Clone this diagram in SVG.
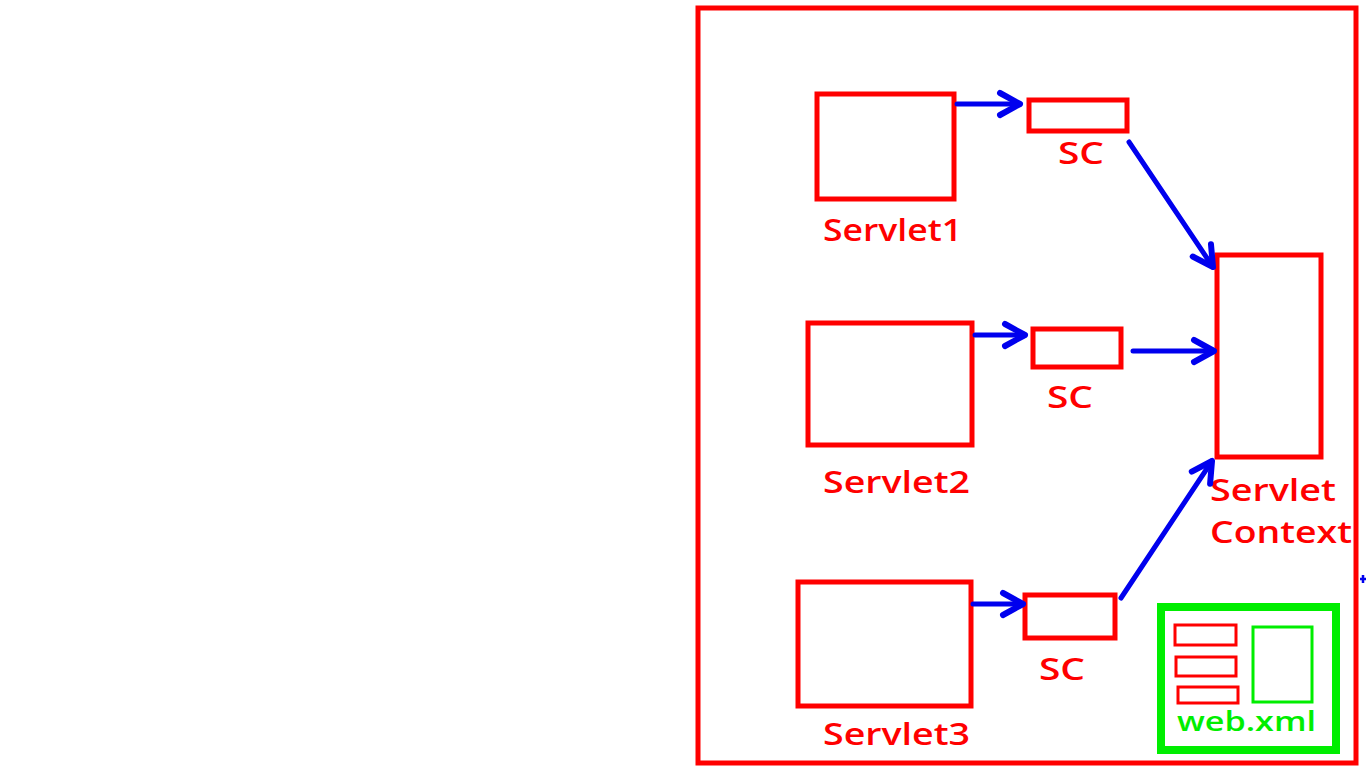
<svg xmlns="http://www.w3.org/2000/svg" width="1366" height="768" viewBox="0 0 1366 768">
<style>
.box{fill:none;stroke:#ff0000;stroke-width:5}
.lbl{fill:#ff0000;font-family:"Open Sans","Liberation Sans",sans-serif;font-weight:600;font-size:30px}
.conn{stroke:#0000ee;stroke-width:5;fill:none;stroke-linecap:round}
</style>
<defs>
<marker id="ah" markerUnits="userSpaceOnUse" markerWidth="40" markerHeight="40" viewBox="-30 -20 40 40" refX="0" refY="0" orient="auto">
<path d="M-20,-11 L0,0 L-20,11" fill="none" stroke="#0000ee" stroke-width="6" stroke-linecap="round" stroke-linejoin="round"/>
</marker>
</defs>
<rect width="1366" height="768" fill="#fff"/>
<g id="container"><rect x="698" y="8" width="658" height="755" class="box"/></g>
<g id="servlet1"><rect x="817" y="94" width="137" height="105" class="box"/><text x="823" y="241" class="lbl" textLength="139" lengthAdjust="spacingAndGlyphs">Servlet1</text></g>
<g id="sc1"><rect x="1029" y="100" width="98" height="31" class="box"/><text x="1058" y="164" class="lbl" textLength="46" lengthAdjust="spacingAndGlyphs">SC</text></g>
<g id="servlet2"><rect x="808" y="323" width="164" height="122" class="box"/><text x="823" y="493" class="lbl" textLength="147" lengthAdjust="spacingAndGlyphs">Servlet2</text></g>
<g id="sc2"><rect x="1033" y="329" width="88" height="38" class="box"/><text x="1047" y="408" class="lbl" textLength="46" lengthAdjust="spacingAndGlyphs">SC</text></g>
<g id="servlet3"><rect x="798" y="582" width="173" height="124" class="box"/><text x="823" y="745" class="lbl" textLength="147" lengthAdjust="spacingAndGlyphs">Servlet3</text></g>
<g id="sc3"><rect x="1025" y="595" width="90" height="43" class="box"/><text x="1039" y="680" class="lbl" textLength="46" lengthAdjust="spacingAndGlyphs">SC</text></g>
<g id="context"><rect x="1217" y="255" width="104" height="202" class="box"/><text class="lbl"><tspan x="1210" y="501" textLength="126" lengthAdjust="spacingAndGlyphs">Servlet</tspan><tspan x="1210" y="543" textLength="142" lengthAdjust="spacingAndGlyphs">Context</tspan></text></g>
<g id="webxml">
<rect x="1161" y="607" width="175" height="143" fill="none" stroke="#00ee00" stroke-width="8"/>
<rect x="1253" y="627" width="59" height="75" fill="none" stroke="#00ee00" stroke-width="3"/>
<rect x="1175" y="625" width="61" height="20" fill="none" stroke="#ff0000" stroke-width="3"/>
<rect x="1176" y="657" width="60" height="19" fill="none" stroke="#ff0000" stroke-width="3"/>
<rect x="1178" y="687" width="60" height="16" fill="none" stroke="#ff0000" stroke-width="3"/>
<text x="1177" y="731" fill="#00ee00" font-family="'Open Sans','Liberation Sans',sans-serif" font-weight="600" font-size="27" textLength="139" lengthAdjust="spacingAndGlyphs">web.xml</text>
</g>
<g id="connectors">
<line x1="957" y1="104" x2="1020" y2="104" class="conn" marker-end="url(#ah)"/>
<line x1="1129" y1="142" x2="1213" y2="267" class="conn" marker-end="url(#ah)"/>
<line x1="975" y1="335" x2="1025" y2="335" class="conn" marker-end="url(#ah)"/>
<line x1="1133" y1="351" x2="1214" y2="351" class="conn" marker-end="url(#ah)"/>
<line x1="973" y1="604" x2="1023" y2="604" class="conn" marker-end="url(#ah)"/>
<line x1="1121" y1="598" x2="1212" y2="461" class="conn" marker-end="url(#ah)"/>
<path d="M1360,579 H1366 M1363,575 V583" stroke="#0000ee" stroke-width="2.5"/>
</g>
</svg>
